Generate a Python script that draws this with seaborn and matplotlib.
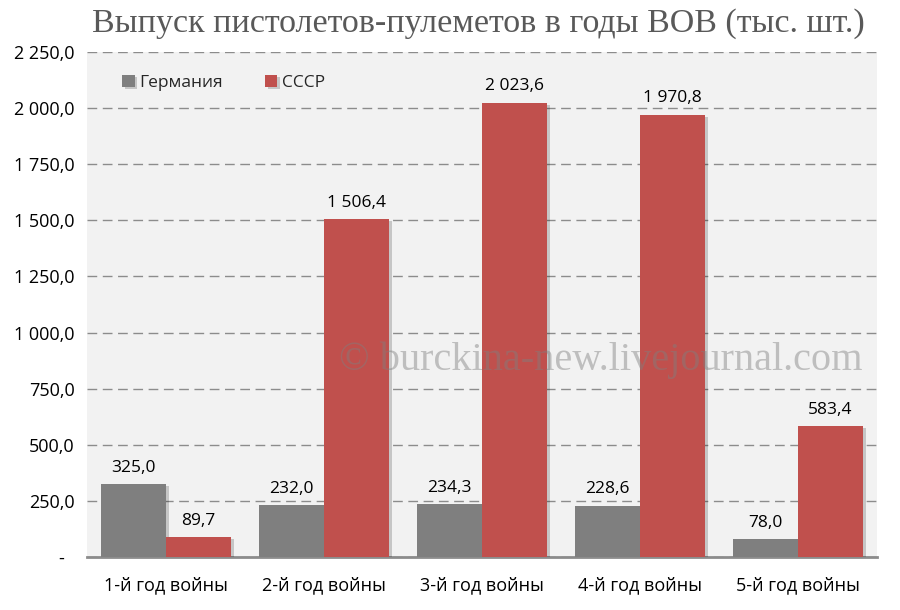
import matplotlib
matplotlib.use("Agg")
import matplotlib.pyplot as plt
import matplotlib.patheffects as pe
from matplotlib.ticker import FixedLocator
import seaborn as sns
import pandas as pd

categories = ["1-й год войны", "2-й год войны", "3-й год войны", "4-й год войны", "5-й год войны"]
germany = [325.0, 232.0, 234.3, 228.6, 78.0]
ussr = [89.7, 1506.4, 2023.6, 1970.8, 583.4]
series = ["Германия", "СССР"]
yticks = [0, 250, 500, 750, 1000, 1250, 1500, 1750, 2000, 2250]

df = pd.DataFrame({
    "cat": categories * 2,
    "val": germany + ussr,
    "series": [series[0]] * len(categories) + [series[1]] * len(categories),
})


def fmt(v):
    return f"{v:,.1f}".replace(",", " ").replace(".", ",")


sns.set_theme(style="white")
plt.rcParams["font.family"] = ["Open Sans", "DejaVu Sans"]

fig = plt.figure(figsize=(9, 6.1), dpi=100)
ax = fig.add_axes([87 / 900, 1 - 557 / 610, (877 - 87) / 900, (557 - 52) / 610])
ax.set_facecolor("#F2F2F2")

palette = {series[0]: "#7F7F7F", series[1]: "#C0504D"}
sns.barplot(data=df, x="cat", y="val", hue="series", palette=palette,
            width=0.825, gap=0, ax=ax, saturation=1, legend=True, zorder=3,
            linewidth=0, edgecolor="none")

for p in ax.patches:
    p.set_path_effects([pe.SimplePatchShadow(offset=(2, -1.5), alpha=0.18, shadow_rgbFace="black"), pe.Normal()])

for cont in ax.containers:
    ax.bar_label(cont, labels=[fmt(v) for v in cont.datavalues], padding=6,
                 fontsize=12.5, color="black", zorder=5)

ax.set_ylim(0, 2250)
ax.set_xlim(-0.5, 4.5)
ax.set_yticks(yticks)
ax.set_yticklabels(["-  "] + [fmt(v) for v in yticks[1:]])
ax.yaxis.grid(True, linestyle=(0, (7, 4)), color="#8C8C8C", linewidth=1, zorder=0)
ax.set_axisbelow(True)
ax.tick_params(axis="y", length=0, labelsize=13, pad=9, colors="black")
ax.tick_params(axis="x", length=0, labelsize=13, pad=14, colors="black")
ax.set_xlabel("")
ax.set_ylabel("")
for s in ["top", "right", "left"]:
    ax.spines[s].set_visible(False)
ax.spines["bottom"].set_color("#8C8C8C")
ax.spines["bottom"].set_linewidth(2)
ax.xaxis.set_minor_locator(FixedLocator([-0.5, 0.5, 1.5, 2.5, 3.5, 4.5]))
ax.tick_params(axis="x", which="minor", length=6, width=2, color="#8C8C8C", direction="out")

h, l = ax.get_legend_handles_labels()
ax.legend(h, l, loc="upper left", bbox_to_anchor=(0.025, 0.985), ncol=2, frameon=False,
          fontsize=12.5, handlelength=0.7, handleheight=0.7, handletextpad=0.3, columnspacing=2.4)

fig.text(0.532, 0.962, "Выпуск пистолетов-пулеметов в годы ВОВ (тыс. шт.)",
         ha="center", va="center", fontsize=24.5, color="#595959", family="Liberation Serif")

ax.text(0.65, 0.39, "© burckina-new.livejournal.com", transform=ax.transAxes,
        ha="center", va="center", fontsize=29, color="#7F7F7F", alpha=0.45,
        family="Liberation Serif", zorder=10)

fig.savefig("out.png", dpi=100)
